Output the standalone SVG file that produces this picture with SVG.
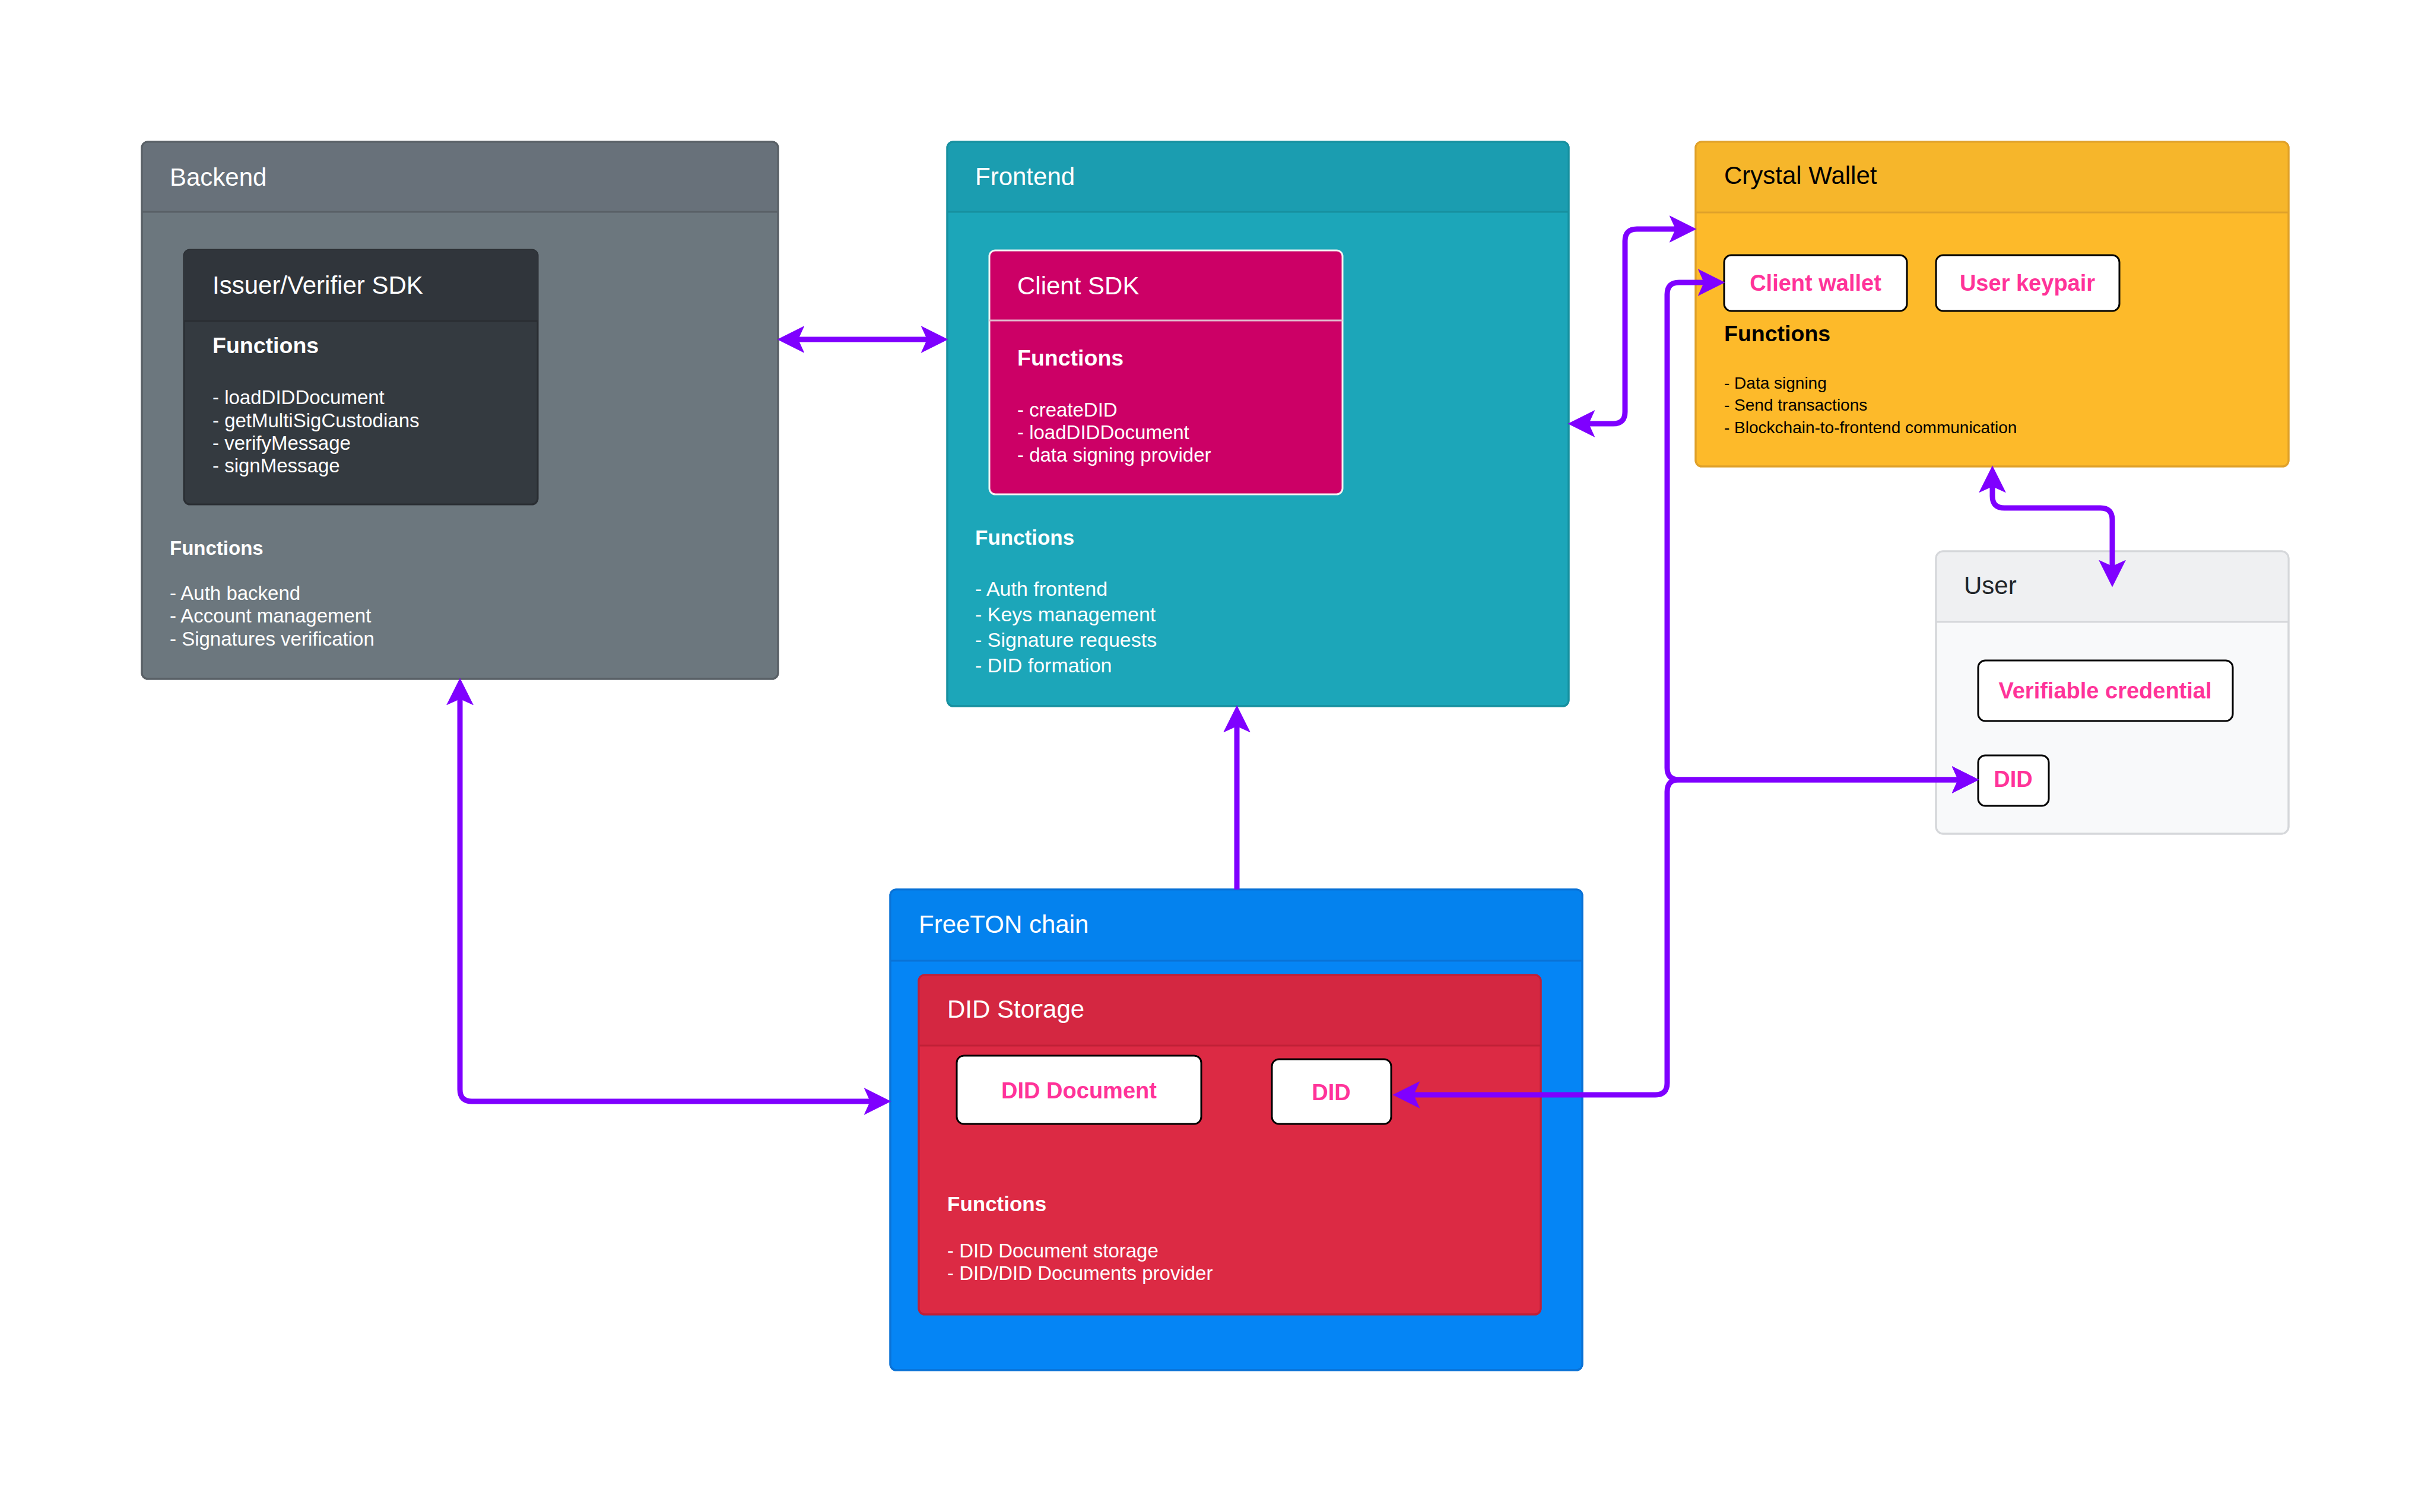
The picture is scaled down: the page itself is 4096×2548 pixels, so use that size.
<svg xmlns="http://www.w3.org/2000/svg" width="4096" height="2548" viewBox="0 0 4096 2548">
<style>
text{font-family:"Liberation Sans",Arial,Helvetica,sans-serif}
.t{font-size:42px}
.w{fill:#ffffff}
.k{fill:#000000}
.fb{font-weight:bold}
.pk{fill:#ff3399;font-weight:bold;font-size:38px;text-anchor:middle}
.chip{fill:#ffffff;stroke:#000000;stroke-width:3}
.edge{fill:none;stroke:#7f00ff;stroke-width:9}
</style>
<defs>
<marker id="ah" markerUnits="userSpaceOnUse" markerWidth="46" markerHeight="46" viewBox="0 0 44 44" refX="10" refY="22" orient="auto-start-reverse">
<path d="M0,0 L44,22 L0,44 L10,22 Z" fill="#7f00ff"/>
</marker>
</defs>
<rect width="4096" height="2548" fill="#ffffff"/>

<g id="backend">
<rect x="239" y="239" width="1072" height="905" rx="10" fill="#6c777e" stroke="#596066" stroke-width="3"/>
<path d="M249,239 H1301 Q1311,239 1311,249 V357 H239 V249 Q239,239 249,239 Z" fill="#68717a"/>
<line x1="239" y1="357" x2="1311" y2="357" stroke="#596066" stroke-width="3"/>
<rect x="239" y="239" width="1072" height="905" rx="10" fill="none" stroke="#596066" stroke-width="3"/>
<text class="t w" x="286" y="313">Backend</text>
<text class="w fb" x="286" y="935" font-size="33">Functions</text>
<text class="w" font-size="33"><tspan x="286" y="1011">- Auth backend</tspan><tspan x="286" y="1049">- Account management</tspan><tspan x="286" y="1088">- Signatures verification</tspan></text>
</g>

<g id="issuer-sdk">
<rect x="310" y="421" width="596" height="429" rx="10" fill="#343a40" stroke="#2a2e33" stroke-width="3"/>
<path d="M320,421 H896 Q906,421 906,431 V541 H310 V431 Q310,421 320,421 Z" fill="#30353b"/>
<line x1="310" y1="541" x2="906" y2="541" stroke="#2a2e33" stroke-width="3"/>
<text class="t w" x="358" y="495">Issuer/Verifier SDK</text>
<text class="w fb" x="358" y="595" font-size="37.5">Functions</text>
<text class="w" font-size="33"><tspan x="358" y="681">- loadDIDDocument</tspan><tspan x="358" y="720">- getMultiSigCustodians</tspan><tspan x="358" y="758">- verifyMessage</tspan><tspan x="358" y="796">- signMessage</tspan></text>
</g>

<g id="frontend">
<rect x="1596" y="239" width="1047" height="951" rx="10" fill="#1ca6b9" stroke="#17909f" stroke-width="3"/>
<path d="M1606,239 H2633 Q2643,239 2643,249 V357 H1596 V249 Q1596,239 1606,239 Z" fill="#1b9db0"/>
<line x1="1596" y1="357" x2="2643" y2="357" stroke="#17909f" stroke-width="3"/>
<rect x="1596" y="239" width="1047" height="951" rx="10" fill="none" stroke="#17909f" stroke-width="3"/>
<text class="t w" x="1643" y="312">Frontend</text>
<text class="w fb" x="1643" y="918" font-size="35">Functions</text>
<text class="w" font-size="34"><tspan x="1643" y="1004">- Auth frontend</tspan><tspan x="1643" y="1047">- Keys management</tspan><tspan x="1643" y="1090">- Signature requests</tspan><tspan x="1643" y="1133">- DID formation</tspan></text>
</g>

<g id="client-sdk">
<rect x="1667" y="422" width="595" height="411" rx="10" fill="#cc0066" stroke="#f2f2f2" stroke-width="3"/>
<line x1="1667" y1="540" x2="2262" y2="540" stroke="#e2b8cc" stroke-width="3"/>
<text class="t w" x="1714" y="496">Client SDK</text>
<text class="w fb" x="1714" y="616" font-size="37.5">Functions</text>
<text class="w" font-size="33"><tspan x="1714" y="702">- createDID</tspan><tspan x="1714" y="740">- loadDIDDocument</tspan><tspan x="1714" y="778">- data signing provider</tspan></text>
</g>

<g id="crystal-wallet">
<rect x="2857" y="239" width="999" height="547" rx="10" fill="#fdba2a" stroke="#e0a12a" stroke-width="3"/>
<path d="M2867,239 H3846 Q3856,239 3856,249 V358 H2857 V249 Q2857,239 2867,239 Z" fill="#f6b62b"/>
<line x1="2857" y1="358" x2="3856" y2="358" stroke="#e0a12a" stroke-width="3"/>
<rect x="2857" y="239" width="999" height="547" rx="10" fill="none" stroke="#e0a12a" stroke-width="3"/>
<text class="t k" x="2905" y="310">Crystal Wallet</text>
<text class="k fb" x="2905" y="575" font-size="37.5">Functions</text>
<text class="k" font-size="28"><tspan x="2905" y="655">- Data signing</tspan><tspan x="2905" y="692">- Send transactions</tspan><tspan x="2905" y="730">- Blockchain-to-frontend communication</tspan></text>
</g>

<g id="client-wallet">
<rect class="chip" x="2905" y="430" width="308" height="94" rx="12"/>
<text class="pk" x="3059" y="490">Client wallet</text>
</g>

<g id="user-keypair">
<rect class="chip" x="3262" y="430" width="309" height="94" rx="12"/>
<text class="pk" x="3416" y="490">User keypair</text>
</g>

<g id="user">
<rect x="3262" y="929" width="594" height="476" rx="12" fill="#f8f9fa" stroke="#d5d7da" stroke-width="3"/>
<path d="M3274,929 H3844 Q3856,929 3856,941 V1048 H3262 V941 Q3262,929 3274,929 Z" fill="#eff0f2"/>
<line x1="3262" y1="1048" x2="3856" y2="1048" stroke="#d5d7da" stroke-width="3"/>
<rect x="3262" y="929" width="594" height="476" rx="12" fill="none" stroke="#d5d7da" stroke-width="3"/>
<text class="t" x="3309" y="1001" fill="#212529">User</text>
</g>

<g id="verifiable-credential">
<rect class="chip" x="3333" y="1113" width="429" height="102" rx="12"/>
<text class="pk" x="3547" y="1177">Verifiable credential</text>
</g>

<g id="user-did">
<rect class="chip" x="3333" y="1273" width="119" height="85" rx="12"/>
<text class="pk" x="3392" y="1326">DID</text>
</g>

<g id="freeton-chain">
<rect x="1500" y="1499" width="1166" height="810" rx="10" fill="#0585f5" stroke="#0a72d6" stroke-width="3"/>
<path d="M1510,1499 H2656 Q2666,1499 2666,1509 V1619 H1500 V1509 Q1500,1499 1510,1499 Z" fill="#0482ee"/>
<line x1="1500" y1="1619" x2="2666" y2="1619" stroke="#0a72d6" stroke-width="3"/>
<rect x="1500" y="1499" width="1166" height="810" rx="10" fill="none" stroke="#0a72d6" stroke-width="3"/>
<text class="t w" x="1548" y="1572">FreeTON chain</text>
</g>

<g id="did-storage">
<rect x="1548" y="1643" width="1048" height="572" rx="10" fill="#dc2a44" stroke="#c02037" stroke-width="3"/>
<path d="M1558,1643 H2586 Q2596,1643 2596,1653 V1762 H1548 V1653 Q1548,1643 1558,1643 Z" fill="#d42741"/>
<line x1="1548" y1="1762" x2="2596" y2="1762" stroke="#c02037" stroke-width="3"/>
<rect x="1548" y="1643" width="1048" height="572" rx="10" fill="none" stroke="#c02037" stroke-width="3"/>
<text class="t w" x="1596" y="1715">DID Storage</text>
<text class="w fb" x="1596" y="2041" font-size="35">Functions</text>
<text class="w" font-size="33"><tspan x="1596" y="2119">- DID Document storage</tspan><tspan x="1596" y="2157">- DID/DID Documents provider</tspan></text>
</g>

<g id="did-document">
<rect class="chip" x="1612" y="1779" width="412" height="115" rx="12"/>
<text class="pk" x="1818" y="1851">DID Document</text>
</g>

<g id="storage-did">
<rect class="chip" x="2143" y="1785" width="201" height="109" rx="12"/>
<text class="pk" x="2243" y="1854">DID</text>
</g>

<g id="connectors">
<path class="edge" d="M1345,572 L1562,572" marker-start="url(#ah)" marker-end="url(#ah)"/>
<path class="edge" d="M2677,714 L2718,714 Q2738,714 2738,694 L2738,406 Q2738,386 2758,386 L2823,386" marker-start="url(#ah)" marker-end="url(#ah)"/>
<path class="edge" d="M3357,820 L3357,836 Q3357,856 3377,856 L3539,856 Q3559,856 3559,876 L3559,954" marker-start="url(#ah)" marker-end="url(#ah)"/>
<path class="edge" d="M775,1178 L775,1836 Q775,1856 795,1856 L1466,1856" marker-start="url(#ah)" marker-end="url(#ah)"/>
<path class="edge" d="M2084,1499 L2084,1224" marker-end="url(#ah)"/>
<path class="edge" d="M2871,476 L2829,476 Q2809,476 2809,496 L2809,1294 Q2809,1314 2829,1314 L3299,1314" marker-start="url(#ah)" marker-end="url(#ah)"/>
<path class="edge" d="M2382,1845 L2789,1845 Q2809,1845 2809,1825 L2809,1334 Q2809,1314 2829,1314 L3299,1314" marker-start="url(#ah)" marker-end="url(#ah)"/>
</g>
</svg>
